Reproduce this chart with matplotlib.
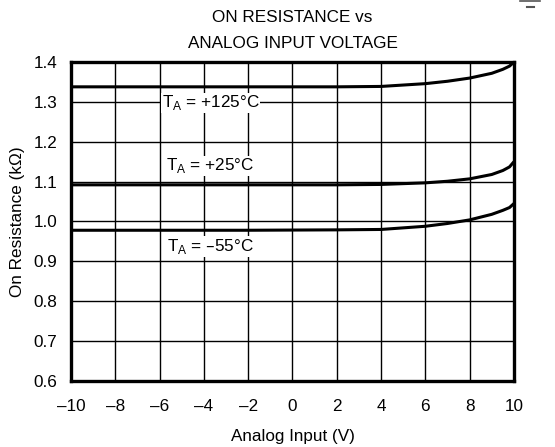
import matplotlib
matplotlib.use("Agg")
import matplotlib.pyplot as plt
from matplotlib.lines import Line2D

plt.rcParams["font.family"] = ["Liberation Sans", "DejaVu Sans"]

# analog input voltage (V)
vin = [-10, -6, -2, 2, 4, 6, 7, 8, 9, 9.5, 9.8, 10]
# on resistance (kOhm) per temperature
r_125 = [1.338, 1.338, 1.338, 1.338, 1.339, 1.346, 1.352, 1.360, 1.372, 1.382, 1.390, 1.400]
r_25 = [1.092, 1.092, 1.092, 1.092, 1.093, 1.097, 1.101, 1.107, 1.118, 1.128, 1.137, 1.150]
r_m55 = [0.978, 0.978, 0.978, 0.979, 0.980, 0.988, 0.995, 1.004, 1.018, 1.028, 1.035, 1.045]

labels = ["T$_\\mathregular{A}$ = +125°C", "T$_\\mathregular{A}$ = +25°C", "T$_\\mathregular{A}$ = \u201355°C"]
label_y = [1.298, 1.140, 0.937]

xticks = list(range(-10, 11, 2))
yticks = [0.6, 0.7, 0.8, 0.9, 1.0, 1.1, 1.2, 1.3, 1.4]

fig = plt.figure(figsize=(5.55, 4.47), dpi=100)
ax = fig.add_axes([0.128, 0.148, 0.798, 0.713])

for r in (r_125, r_25, r_m55):
    ax.plot(vin, r, color="black", lw=2.2, solid_capstyle="butt", zorder=3)

for lab, y in zip(labels, label_y):
    ax.text(-3.7, y, lab, ha="center", va="center", fontsize=12.3,
            bbox=dict(facecolor="white", edgecolor="none", pad=0.5), zorder=4)

ax.set_xlim(-10, 10)
ax.set_ylim(0.6, 1.4)
ax.set_xticks(xticks)
ax.set_xticklabels([str(t).replace("-", "\u2013") for t in xticks])
ax.set_yticks(yticks)
ax.set_yticklabels([f"{t:.1f}" for t in yticks])
ax.tick_params(axis="x", length=0, labelsize=12.3, pad=13)
ax.tick_params(axis="y", length=0, labelsize=12.3, pad=10)
ax.grid(True, color="black", lw=1.0)
ax.set_axisbelow(True)
for s in ax.spines.values():
    s.set_linewidth(2.4)
    s.set_zorder(5)

ax.set_xlabel("Analog Input (V)", fontsize=12.3, labelpad=11)
ax.set_ylabel("On Resistance (k\u03a9)", fontsize=12.3, labelpad=6)
ax.set_title("ON RESISTANCE vs\nANALOG INPUT VOLTAGE", fontsize=12.3, pad=10, linespacing=1.9)

# small mark in the top right corner
fig.add_artist(Line2D([0.937, 0.973], [0.998, 0.998], color="#555555", lw=1.2))
fig.add_artist(Line2D([0.95, 0.962], [0.985, 0.985], color="#555555", lw=1.5))

fig.savefig("out.png", dpi=100)
